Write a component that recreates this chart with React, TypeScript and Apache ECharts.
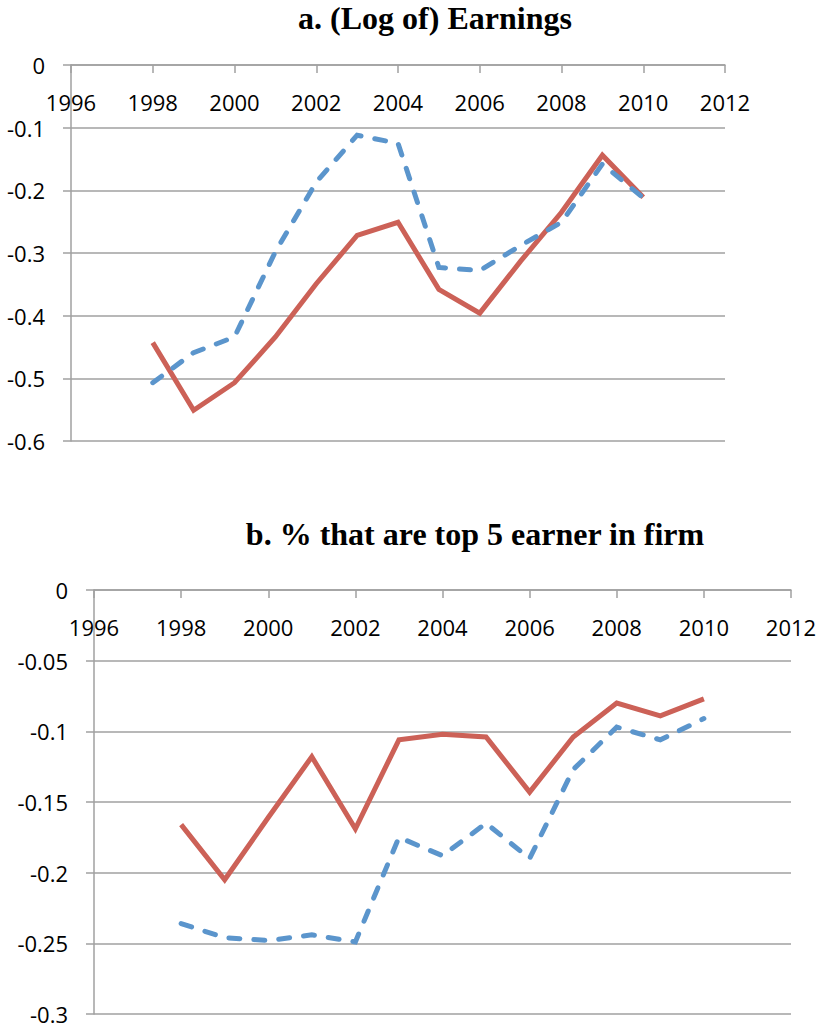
import React, { useEffect, useRef } from "react";
import * as echarts from "echarts";

const years = [1998, 1999, 2000, 2001, 2002, 2003, 2004, 2005, 2006, 2007, 2008, 2009, 2010];

// Panel a: (Log of) Earnings
const earningsRed = [-0.443, -0.551, -0.507, -0.434, -0.349, -0.272, -0.251, -0.358, -0.396, -0.313, -0.235, -0.144, -0.211];
const earningsBlue = [-0.507, -0.459, -0.434, -0.298, -0.187, -0.112, -0.125, -0.323, -0.328, -0.288, -0.251, -0.158, -0.212];

// Panel b: % that are top 5 earner in firm
const top5Red = [-0.166, -0.205, -0.161, -0.118, -0.169, -0.106, -0.102, -0.104, -0.143, -0.104, -0.080, -0.089, -0.077];
const top5Blue = [-0.236, -0.246, -0.248, -0.244, -0.249, -0.175, -0.188, -0.165, -0.190, -0.127, -0.097, -0.106, -0.091];

const titleA = "a. (Log of) Earnings";
const titleB = "b. % that are top 5 earner in firm";

const RED = "#CC6157";
const BLUE = "#5B95CC";
const GRID_GRAY = "#A0A0A0";
const LABEL_FONT = "Open Sans";

const pairs = (vals: number[]) => years.map((y, i) => [y, vals[i]]);

function xAxisFor(gridIndex: number) {
  return {
    type: "value",
    gridIndex,
    position: "top",
    min: 1996,
    max: 2012,
    interval: 2,
    axisLine: { show: true, onZero: false, lineStyle: { color: GRID_GRAY, width: 1.5 } },
    axisTick: { show: true, inside: true, length: 8, lineStyle: { color: GRID_GRAY, width: 1.5 } },
    axisLabel: {
      inside: true,
      margin: 26,
      color: "#000",
      fontFamily: LABEL_FONT,
      fontSize: 22,
      formatter: (v: number) => String(v),
    },
    splitLine: { show: false },
  };
}

function yAxisFor(gridIndex: number, min: number, interval: number) {
  return {
    type: "value",
    gridIndex,
    min,
    max: 0,
    interval,
    axisLine: { show: true, lineStyle: { color: GRID_GRAY, width: 1.5 } },
    axisTick: { show: true, length: 8, lineStyle: { color: GRID_GRAY, width: 1.5 } },
    axisLabel: {
      margin: 26,
      color: "#000",
      fontFamily: LABEL_FONT,
      fontSize: 22,
      formatter: (v: number) => String(Math.round(v * 100) / 100),
    },
    splitLine: { show: true, lineStyle: { color: GRID_GRAY, width: 1.5 } },
  };
}

function lineSeries(name: string, idx: number, vals: number[], color: string, dashed: boolean) {
  return {
    name,
    type: "line",
    xAxisIndex: idx,
    yAxisIndex: idx,
    data: pairs(vals),
    showSymbol: false,
    symbol: "none",
    lineStyle: {
      color,
      width: 5,
      type: dashed ? [11, 14] : "solid",
      cap: dashed ? "round" : "butt",
      join: "miter",
    },
    z: dashed ? 3 : 2,
  };
}

export default function App() {
  const ref = useRef<HTMLDivElement>(null);
  useEffect(() => {
    if (!ref.current) return;
    const chart = echarts.init(ref.current, undefined, { renderer: "svg" });
    chart.setOption({
      animation: false,
      backgroundColor: "#fff",
      grid: [
        { left: 71, top: 65, width: 654, height: 376, outerBoundsMode: "none", containLabel: false },
        { left: 94, top: 590, width: 697, height: 424, outerBoundsMode: "none", containLabel: false },
      ],
      xAxis: [xAxisFor(0), xAxisFor(1)],
      yAxis: [yAxisFor(0, -0.6, 0.1), yAxisFor(1, -0.3, 0.05)],
      series: [
        lineSeries("Series 1", 0, earningsRed, RED, false),
        lineSeries("Series 2", 0, earningsBlue, BLUE, true),
        lineSeries("Series 1", 1, top5Red, RED, false),
        lineSeries("Series 2", 1, top5Blue, BLUE, true),
      ],
      graphic: [
        {
          type: "text",
          x: 435,
          y: 18,
          style: {
            text: titleA,
            font: 'bold 32px "Liberation Serif"',
            fill: "#000",
            textAlign: "center",
            textVerticalAlign: "middle",
          },
        },
        {
          type: "text",
          x: 475,
          y: 534,
          style: {
            text: titleB,
            font: 'bold 32px "Liberation Serif"',
            fill: "#000",
            textAlign: "center",
            textVerticalAlign: "middle",
          },
        },
      ],
    });
    return () => chart.dispose();
  }, []);
  return (
    <div
      ref={ref}
      style={{ position: "absolute", left: 0, top: 0, width: 818, height: 1030 }}
    />
  );
}
